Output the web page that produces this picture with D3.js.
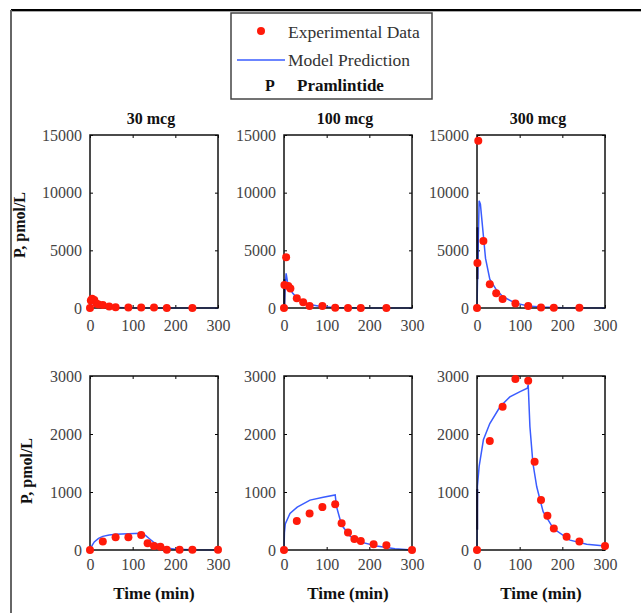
<!DOCTYPE html>
<html>
<head>
  <meta charset="utf-8">
  <title>Pramlintide PK</title>
  <script src="https://d3js.org/d3.v7.min.js"></script>
  <style>
    body { margin: 0; background: #fff; }
    svg { display: block; }
    .tick text { font-family: "Liberation Serif", serif; font-size: 16px; fill: #444; }
    .tick line { stroke: #000; }
    .lbl { font-family: "Liberation Serif", serif; font-weight: bold; fill: #111; }
  </style>
</head>
<body>
<div id="chart"></div>
<script>
// dose titles
const doses = ["30 mcg", "100 mcg", "300 mcg"];
const xTicks = [0, 100, 200, 300];
const yTicksBolus = [0, 5000, 10000, 15000];
const yTicksInfusion = [0, 1000, 2000, 3000];

// top row: bolus, [time min, pmol/L]
const bolus30Obs = [[0,0],[2,650],[5,800],[10,700],[15,400],[20,300],[30,260],[45,120],[60,60],[90,50],[120,50],[150,50],[180,0],[240,0]];
const bolus100Obs = [[0,0],[1,2000],[5,4400],[10,1900],[15,1700],[30,840],[45,490],[60,170],[90,170],[120,20],[150,10],[180,10],[240,10]];
const bolus300Obs = [[0,0],[1,3900],[3,14500],[15,5800],[30,2050],[45,1270],[60,780],[90,400],[120,170],[150,50],[180,30],[240,30]];

const bolus30Model = [[0,0],[3,300],[5,450],[10,380],[20,200],[40,80],[80,20],[150,0],[300,0]];
const bolus100Model = [[0,0],[2,1500],[5,3000],[8,2300],[12,1800],[20,1300],[30,900],[45,500],[60,300],[90,100],[120,40],[180,10],[300,0]];
const bolus300Model = [[0,0],[2,4000],[5,9300],[8,9000],[10,8200],[20,4300],[30,2500],[45,1600],[60,1000],[90,420],[120,180],[150,80],[200,20],[300,0]];

// bottom row: infusion
const inf30Obs = [[0,0],[30,145],[60,220],[90,220],[120,260],[135,115],[150,70],[165,55],[180,5],[210,5],[240,5],[300,5]];
const inf100Obs = [[0,0],[30,500],[60,630],[90,740],[120,790],[135,460],[150,300],[165,190],[180,155],[210,100],[240,80],[300,0]];
const inf300Obs = [[0,0],[30,1880],[60,2470],[90,2950],[120,2920],[135,1520],[150,860],[165,590],[180,370],[210,230],[240,145],[300,70]];

const inf30Model = [[0,0],[5,80],[10,140],[20,200],[30,235],[45,260],[60,272],[90,282],[120,288],[130,250],[140,190],[150,130],[165,70],[180,35],[200,15],[240,5],[300,0]];
const inf100Model = [[0,0],[1,300],[3,450],[14,630],[31,740],[61,860],[92,910],[120,950],[123,750],[135,430],[155,240],[178,140],[217,70],[260,20],[300,0]];
const inf300Model = [[0,0],[1,1100],[5,1440],[15,1900],[30,2180],[54,2470],[77,2640],[101,2730],[118,2790],[120,2850],[124,2130],[131,1500],[140,1090],[155,660],[179,370],[218,170],[257,100],[300,70]];

// dark early-phase traces
const bolus100Early = [[1,200],[1,2500]];
const bolus300Early = [[1,2500],[1,7000]];
const inf300Early = [[0.5,350],[0.5,1050]];

const W = 641, H = 613;
const svg = d3.select("#chart").append("svg").attr("width", W).attr("height", H);

// outer frame
svg.append("line").attr("x1", 11).attr("x2", W).attr("y1", 10).attr("y2", 10).attr("stroke", "#000").attr("stroke-width", 2);
svg.append("line").attr("x1", 11).attr("x2", W).attr("y1", 11.5).attr("y2", 11.5).attr("stroke", "#aaa").attr("stroke-width", 1);
svg.append("line").attr("x1", 11).attr("x2", 11).attr("y1", 10).attr("y2", H).attr("stroke", "#666").attr("stroke-width", 2);

const colLeft = [90, 284, 477];
const pw = 128;
const fmt = d3.format("d");

const rows = [
  { top: 135, bottom: 308, yMax: 15000, yTicks: yTicksBolus,
    obs: [bolus30Obs, bolus100Obs, bolus300Obs],
    model: [bolus30Model, bolus100Model, bolus300Model],
    early: [null, bolus100Early, bolus300Early], tickDy: 15 },
  { top: 376, bottom: 550, yMax: 3000, yTicks: yTicksInfusion,
    obs: [inf30Obs, inf100Obs, inf300Obs],
    model: [inf30Model, inf100Model, inf300Model],
    early: [null, null, inf300Early], tickDy: 12 }
];

rows.forEach((row, ri) => {
  const y = d3.scaleLinear().domain([0, row.yMax]).range([row.bottom, row.top]);
  colLeft.forEach((x0, ci) => {
    const x = d3.scaleLinear().domain([0, 300]).range([x0, x0 + pw]);
    const g = svg.append("g");

    const ax = g.append("g").attr("transform", `translate(0,${row.bottom})`)
      .call(d3.axisBottom(x).tickValues(xTicks).tickSize(-3).tickPadding(row.tickDy - 3).tickFormat(fmt));
    ax.select(".domain").remove();
    const axt = g.append("g").attr("transform", `translate(0,${row.top})`)
      .call(d3.axisTop(x).tickValues(xTicks).tickSize(-3).tickFormat(""));
    axt.select(".domain").remove();
    const ay = g.append("g").attr("transform", `translate(${x0},0)`)
      .call(d3.axisLeft(y).tickValues(row.yTicks).tickSize(-3).tickPadding(8).tickFormat(fmt));
    ay.select(".domain").remove();
    const ayr = g.append("g").attr("transform", `translate(${x0 + pw},0)`)
      .call(d3.axisRight(y).tickValues(row.yTicks).tickSize(-3).tickFormat(""));
    ayr.select(".domain").remove();

    const line = d3.line().x(d => x(d[0])).y(d => y(d[1]));
    g.append("path").datum(row.model[ci]).attr("d", line)
      .attr("fill", "none").attr("stroke", "#3a5cff").attr("stroke-width", 1.5);
    if (row.early[ci]) {
      g.append("path").datum(row.early[ci]).attr("d", line)
        .attr("fill", "none").attr("stroke", "#0a0a70").attr("stroke-width", 2);
    }

    g.append("rect").attr("x", x0).attr("y", row.top).attr("width", pw)
      .attr("height", row.bottom - row.top).attr("fill", "none")
      .attr("stroke", "#111").attr("stroke-width", 1.5);

    g.selectAll("circle").data(row.obs[ci]).enter().append("circle")
      .attr("cx", d => x(d[0])).attr("cy", d => y(d[1])).attr("r", 4)
      .attr("fill", "#ff1a0a");

    if (ri === 0) {
      g.append("text").attr("class", "lbl").attr("x", x0 + pw / 2 - 3).attr("y", 124)
        .attr("text-anchor", "middle").attr("font-size", 16).text(doses[ci]);
    } else {
      g.append("text").attr("class", "lbl").attr("x", x0 + pw / 2).attr("y", 599)
        .attr("text-anchor", "middle").attr("font-size", 17).text("Time (min)");
    }
  });
});

// y labels
[[20, 225], [27, 471]].forEach(([cx, cy]) => {
  svg.append("text").attr("class", "lbl").attr("font-size", 16)
    .attr("transform", `translate(${cx + 5},${cy}) rotate(-90)`)
    .attr("text-anchor", "middle").text("P, pmol/L");
});

// legend
const lg = svg.append("g");
lg.append("rect").attr("x", 231).attr("y", 13).attr("width", 201).attr("height", 86)
  .attr("fill", "#fff").attr("stroke", "#444").attr("stroke-width", 1.5);
lg.append("circle").attr("cx", 261).attr("cy", 31).attr("r", 4).attr("fill", "#ff1a0a");
lg.append("line").attr("x1", 237).attr("x2", 285).attr("y1", 60).attr("y2", 60)
  .attr("stroke", "#3a5cff").attr("stroke-width", 1.5);
const legendText = ["Experimental Data", "Model Prediction"];
legendText.forEach((t, i) => {
  lg.append("text").attr("x", 288).attr("y", 38 + i * 28)
    .attr("font-family", "Liberation Serif, serif").attr("font-size", 17.5)
    .attr("fill", "#333").text(t);
});
lg.append("text").attr("class", "lbl").attr("x", 270).attr("y", 91).attr("text-anchor", "middle")
  .attr("font-size", 16).text("P");
lg.append("text").attr("class", "lbl").attr("x", 297).attr("y", 91)
  .attr("font-size", 17).text("Pramlintide");
</script>
</body>
</html>
